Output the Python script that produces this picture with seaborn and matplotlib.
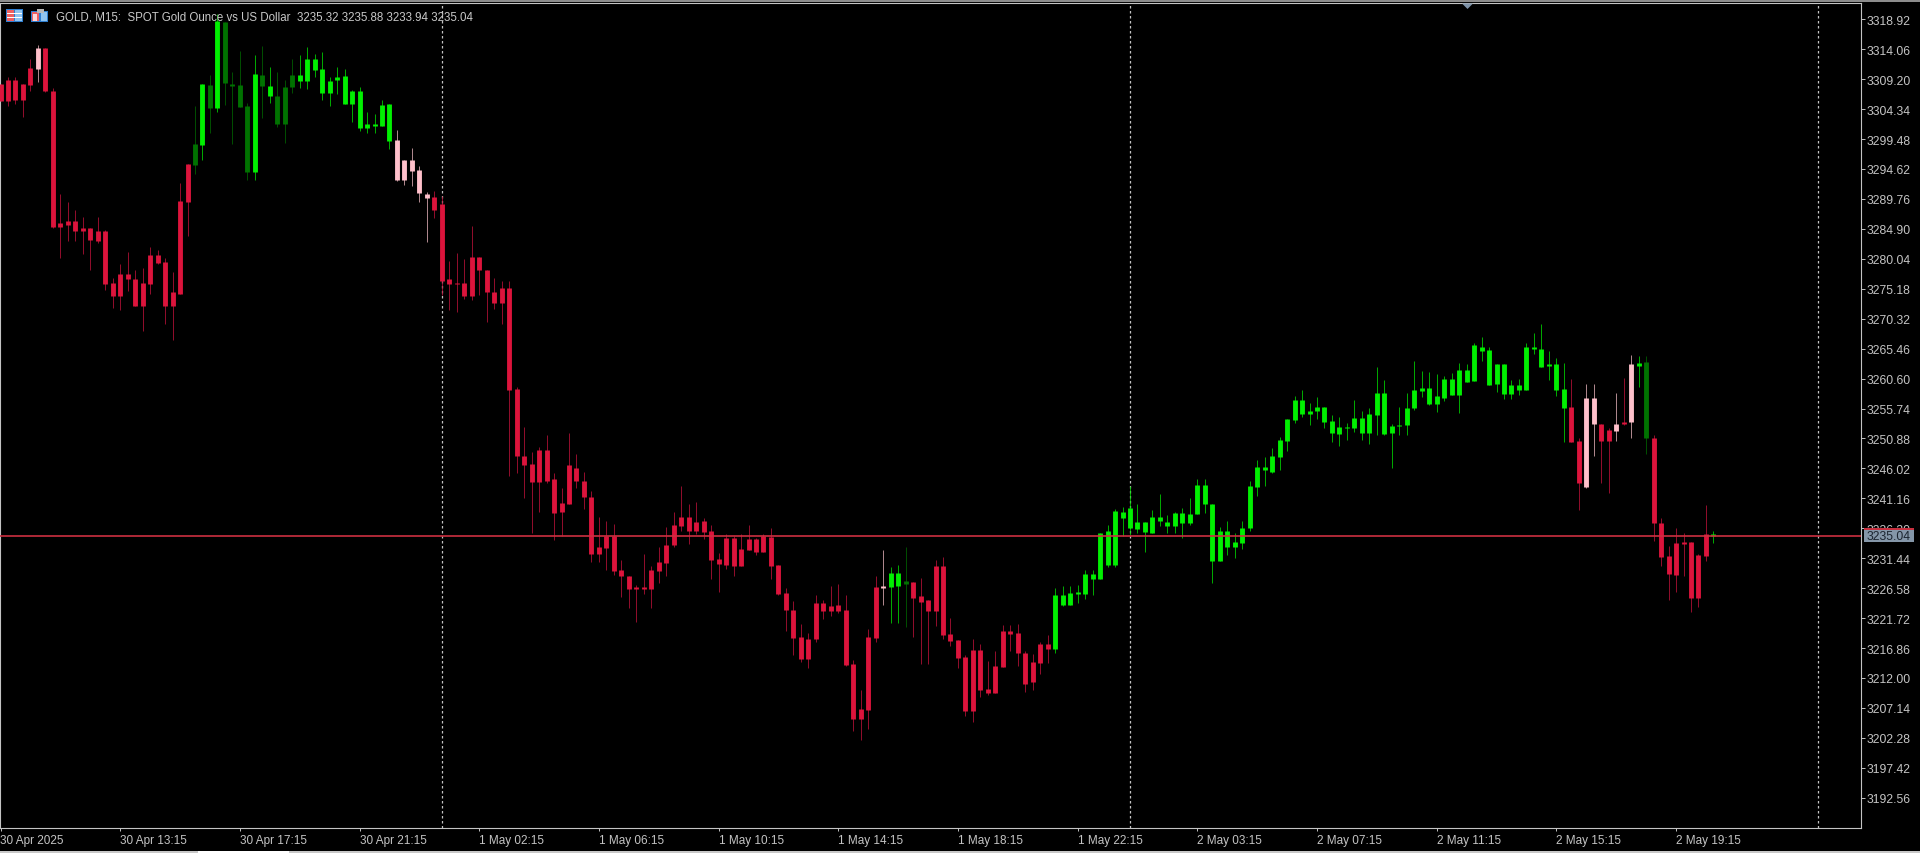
import matplotlib
matplotlib.use("Agg")
import matplotlib.pyplot as plt
from matplotlib.patches import Rectangle, Polygon
import numpy as np
import pandas as pd
import seaborn as sns

highs = [
 3308.4,3309.5,3309.6,3308.4,3312.5,3314.8,3314.3,3307.7,3290.6,3289.3,
 3287.9,3286.9,3285.0,3286.8,3284.7,3277.0,3279.2,3281.1,3278.2,3278.5,
 3281.9,3281.5,3280.1,3277.9,3292.3,3295.5,3304.9,3308.4,3309.9,3319.8,
 3318.5,3310.4,3313.7,3305.4,3313.1,3314.6,3311.2,3310.3,3309.0,3312.5,
 3313.1,3314.4,3313.3,3313.6,3309.6,3311.1,3310.9,3307.5,3307.9,3303.8,
 3303.6,3305.8,3305.1,3301.0,3296.1,3298.0,3295.1,3290.9,3291.1,3290.2,
 3279.7,3281.0,3280.0,3285.3,3280.4,3278.3,3276.9,3276.4,3276.5,3259.3,
 3252.7,3248.7,3249.5,3251.4,3245.3,3242.8,3251.8,3248.4,3245.4,3242.3,
 3238.1,3237.5,3237.0,3231.2,3228.5,3227.1,3232.1,3230.1,3233.2,3236.5,
 3239.0,3243.2,3240.2,3240.5,3237.9,3236.9,3232.3,3235.3,3235.1,3235.3,
 3236.9,3234.8,3235.3,3236.3,3230.3,3226.6,3224.5,3220.7,3219.3,3225.4,
 3224.6,3226.9,3227.2,3225.4,3214.9,3210.1,3220.0,3228.6,3232.8,3230.0,
 3230.3,3233.2,3227.5,3228.2,3224.7,3231.1,3231.6,3221.7,3218.1,3215.8,
 3218.3,3217.5,3214.7,3216.4,3220.6,3220.6,3220.8,3216.4,3215.9,3217.9,
 3219.0,3226.6,3226.9,3226.9,3227.1,3229.6,3229.6,3235.6,3236.8,3239.4,
 3239.7,3243.2,3240.2,3237.3,3239.2,3241.8,3238.4,3238.9,3239.6,3241.2,
 3244.3,3244.3,3240.2,3236.5,3237.5,3235.5,3237.5,3243.9,3247.3,3247.8,
 3249.3,3251.1,3254.0,3257.8,3258.7,3256.7,3257.6,3256.0,3254.7,3254.4,
 3253.4,3257.1,3255.4,3255.8,3262.4,3260.3,3253.2,3256.0,3258.3,3263.5,
 3261.8,3261.6,3261.3,3261.0,3261.5,3263.2,3263.0,3266.4,3267.3,3265.7,
 3263.0,3263.0,3260.4,3260.5,3266.4,3268.0,3269.4,3265.0,3263.9,3263.1,
 3260.5,3250.9,3259.7,3259.7,3253.2,3252.5,3258.2,3260.7,3264.5,3264.2,
 3264.2,3251.4,3238.0,3233.4,3236.3,3235.6,3234.0,3232.2,3240.0,3235.88,
]
tops = [
 3308.4,3309.0,3309.0,3308.4,3311.0,3314.3,3314.3,3307.2,3285.8,3286.1,
 3286.1,3285.0,3285.0,3284.6,3284.6,3276.1,3277.6,3277.6,3276.7,3276.1,
 3280.7,3280.7,3279.6,3274.7,3289.4,3295.5,3298.7,3308.4,3308.3,3318.7,
 3318.5,3308.4,3308.3,3304.9,3310.0,3309.9,3308.1,3306.5,3308.0,3309.9,
 3309.9,3312.5,3312.5,3310.9,3308.9,3309.6,3309.7,3307.2,3307.2,3302.0,
 3302.0,3305.0,3305.1,3299.3,3296.0,3296.0,3294.4,3290.5,3290.0,3288.9,
 3276.7,3276.1,3276.1,3280.4,3280.4,3278.3,3274.7,3275.3,3275.3,3258.9,
 3248.1,3246.7,3249.0,3249.0,3244.3,3240.4,3246.5,3246.1,3244.0,3241.4,
 3233.3,3235.0,3235.0,3229.6,3228.5,3226.7,3226.7,3229.6,3230.8,3233.6,
 3236.9,3238.2,3238.2,3237.3,3237.5,3235.8,3231.3,3234.8,3234.8,3232.9,
 3234.6,3234.6,3235.1,3234.9,3230.3,3225.8,3223.1,3218.7,3218.4,3224.2,
 3224.2,3223.7,3223.9,3223.1,3214.3,3206.9,3218.7,3226.7,3227.0,3229.0,
 3229.0,3227.8,3227.5,3225.3,3224.7,3230.2,3230.2,3219.1,3218.1,3215.4,
 3216.6,3216.6,3210.2,3213.9,3219.6,3219.6,3219.3,3216.1,3214.6,3217.5,
 3217.5,3225.5,3225.5,3225.8,3225.9,3228.9,3228.8,3235.6,3235.8,3239.1,
 3239.0,3239.6,3237.3,3237.3,3238.1,3238.1,3237.3,3238.7,3238.7,3238.6,
 3243.4,3243.4,3240.2,3235.9,3235.8,3234.0,3236.4,3243.1,3246.3,3246.3,
 3248.0,3250.6,3254.0,3257.1,3257.1,3255.4,3256.0,3256.0,3253.7,3252.7,
 3252.7,3254.2,3254.2,3254.8,3258.3,3258.3,3252.9,3253.1,3255.8,3258.8,
 3259.0,3259.0,3257.7,3260.5,3260.5,3262.0,3262.0,3266.1,3265.8,3265.3,
 3263.0,3263.0,3259.5,3259.5,3265.7,3265.7,3265.4,3262.9,3262.9,3258.9,
 3256.0,3250.4,3257.4,3257.4,3253.2,3252.2,3253.2,3253.5,3262.9,3263.1,
 3263.3,3251.0,3237.2,3231.8,3233.9,3234.0,3234.0,3232.0,3235.3,3235.32,
]
bottoms = [
 3305.6,3305.6,3305.8,3305.8,3308.3,3310.9,3307.2,3285.2,3285.2,3285.6,
 3284.5,3284.5,3283.1,3283.0,3276.0,3274.0,3274.0,3276.7,3272.4,3272.4,
 3276.0,3279.4,3272.3,3272.3,3274.4,3289.3,3295.3,3298.5,3304.5,3304.5,
 3308.6,3308.1,3304.7,3294.1,3294.1,3308.1,3306.5,3302.0,3301.9,3307.9,
 3308.9,3308.9,3310.7,3306.9,3306.9,3309.0,3305.2,3305.2,3301.2,3301.2,
 3301.6,3301.6,3299.1,3292.8,3292.9,3294.3,3290.7,3289.9,3288.0,3276.5,
 3276.0,3275.9,3274.0,3274.0,3278.2,3274.6,3272.8,3272.8,3258.8,3248.0,
 3246.6,3243.8,3243.8,3244.0,3238.7,3238.9,3240.3,3243.9,3241.3,3232.2,
 3232.2,3233.1,3229.4,3228.5,3226.5,3226.5,3226.5,3226.5,3229.4,3230.7,
 3233.6,3236.7,3235.9,3235.9,3235.7,3231.2,3230.5,3230.4,3230.1,3230.1,
 3232.8,3232.4,3232.4,3230.2,3225.6,3223.0,3218.5,3215.1,3215.1,3218.4,
 3222.8,3222.8,3222.9,3214.1,3205.3,3205.3,3206.8,3218.5,3226.6,3226.8,
 3227.0,3227.2,3224.9,3224.3,3222.8,3222.8,3219.0,3218.0,3215.2,3206.7,
 3206.7,3210.1,3209.6,3209.6,3213.7,3219.1,3216.0,3211.1,3211.3,3214.4,
 3216.7,3216.7,3223.8,3223.9,3225.7,3225.6,3228.1,3228.1,3230.4,3230.4,
 3238.0,3236.3,3236.2,3235.7,3235.5,3237.4,3236.6,3236.6,3237.2,3237.2,
 3238.6,3240.2,3231.0,3231.0,3233.3,3233.3,3233.9,3236.4,3243.0,3245.7,
 3245.5,3247.9,3250.4,3253.9,3254.9,3254.9,3255.3,3253.6,3251.7,3251.6,
 3252.5,3252.6,3251.8,3251.8,3254.7,3251.6,3251.8,3252.9,3253.0,3255.8,
 3258.6,3256.4,3256.5,3257.5,3258.0,3258.0,3260.1,3260.2,3265.1,3259.6,
 3259.7,3258.1,3258.1,3258.8,3258.8,3265.4,3262.5,3262.6,3258.8,3255.9,
 3250.3,3243.6,3243.0,3253.2,3250.4,3250.4,3252.1,3253.2,3253.5,3262.7,
 3250.9,3237.1,3231.6,3228.8,3228.7,3233.7,3225.0,3225.0,3231.8,3235.04,
]
lows = [
 3305.6,3304.9,3305.2,3303.1,3307.3,3308.8,3307.1,3285.1,3280.2,3283.0,
 3282.9,3280.8,3278.2,3282.6,3275.0,3272.1,3271.8,3274.8,3272.4,3268.3,
 3274.3,3279.2,3269.4,3266.9,3274.4,3283.7,3293.8,3296.1,3300.4,3303.8,
 3305.0,3298.6,3304.7,3292.8,3292.9,3302.9,3305.3,3301.4,3298.8,3307.0,
 3307.8,3307.6,3309.6,3305.8,3304.9,3306.8,3305.1,3302.3,3300.8,3300.5,
 3300.4,3301.6,3297.9,3292.7,3292.1,3291.8,3289.3,3282.7,3286.7,3274.1,
 3271.8,3271.4,3273.5,3273.4,3274.2,3269.8,3271.9,3269.4,3244.8,3245.3,
 3241.2,3235.6,3239.0,3243.6,3234.4,3235.1,3240.3,3242.9,3239.5,3230.9,
 3230.9,3229.5,3228.7,3225.1,3223.3,3221.1,3225.6,3223.4,3227.4,3228.6,
 3233.2,3235.9,3233.7,3235.3,3234.6,3228.0,3225.9,3229.7,3228.5,3230.1,
 3232.7,3231.9,3232.4,3228.1,3225.4,3219.6,3215.8,3214.6,3213.6,3217.8,
 3221.6,3222.0,3222.6,3214.0,3203.4,3201.9,3203.7,3217.8,3223.9,3221.0,
 3221.0,3220.3,3218.7,3214.3,3214.2,3220.5,3218.4,3217.2,3213.6,3205.8,
 3204.9,3208.9,3209.3,3209.6,3213.7,3216.3,3214.0,3209.8,3210.0,3212.6,
 3214.4,3216.1,3223.7,3223.9,3224.2,3224.8,3225.4,3228.1,3230.0,3230.0,
 3235.0,3235.2,3235.5,3232.4,3235.5,3236.7,3235.6,3235.5,3234.7,3236.9,
 3238.6,3238.8,3227.4,3231.0,3231.9,3231.4,3232.9,3235.8,3241.6,3243.2,
 3245.2,3245.7,3248.9,3253.4,3254.4,3253.0,3254.0,3252.5,3250.3,3249.6,
 3250.6,3251.9,3250.6,3249.9,3251.5,3251.5,3246.1,3251.4,3251.4,3255.5,
 3257.6,3256.3,3255.2,3257.0,3258.0,3255.0,3260.1,3260.2,3263.5,3259.6,
 3258.4,3257.3,3257.3,3257.9,3258.8,3264.6,3262.5,3260.3,3257.8,3250.3,
 3250.3,3239.3,3242.8,3248.1,3243.6,3242.1,3250.4,3253.1,3250.9,3259.3,
 3248.3,3234.3,3230.2,3224.7,3226.0,3228.5,3222.7,3223.5,3231.0,3233.94,
]
kinds = list(
    "rrrrr" "p" + "r"*20 + "dgdg" "dddd" "gdg" "ddd" + "g"*13 + "p"*5 + "r"*60
    + "p" "gg" "d" + "r"*19 + "g"*69 + "rr" "pp" "rr" "p" "r" "p" "g" "d" + "r"*8 + "g"
)
x_labels = ["30 Apr 2025", "30 Apr 13:15", "30 Apr 17:15", "30 Apr 21:15", "1 May 02:15",
            "1 May 06:15", "1 May 10:15", "1 May 14:15", "1 May 18:15", "1 May 22:15",
            "2 May 03:15", "2 May 07:15", "2 May 11:15", "2 May 15:15", "2 May 19:15"]
y_labels = ["3318.92", "3314.06", "3309.20", "3304.34", "3299.48", "3294.62", "3289.76",
            "3284.90", "3280.04", "3275.18", "3270.32", "3265.46", "3260.60", "3255.74",
            "3250.88", "3246.02", "3241.16", "3236.30", "3231.44", "3226.58", "3221.72",
            "3216.86", "3212.00", "3207.14", "3202.28", "3197.42", "3192.56"]
day_breaks = [59, 151, 243]
last_price = 3235.04
title = "GOLD, M15:  SPOT Gold Ounce vs US Dollar  3235.32 3235.88 3233.94 3235.04"

GREY = "#c4c4c4"
body_pal = {"r": "#dc143c", "g": "#00f000", "d": "#007200", "p": "#ffc0cb"}
wick_pal = {"r": "#c0123a", "g": "#00e000", "d": "#006800", "p": "#e8b4bc"}

sns.set_theme(style="dark", rc={
    "figure.facecolor": "black", "axes.facecolor": "black", "savefig.facecolor": "black",
    "axes.edgecolor": GREY, "text.color": GREY, "xtick.color": GREY, "ytick.color": GREY,
    "axes.linewidth": 0.8, "xtick.bottom": True, "ytick.right": True,
})
plt.rcParams["font.family"] = ["Liberation Sans", "DejaVu Sans"]

W, H = 1920, 854
fig = plt.figure(figsize=(W / 100, H / 100), dpi=100)
ax_top, ax_bot, ax_right = 4, 829, 1861
ax = fig.add_axes([0, (H - ax_bot) / H, ax_right / W, (ax_bot - ax_top) / H])

n = len(highs)
idx = np.arange(n)
wicks = pd.DataFrame({"idx": np.r_[idx, idx], "price": highs + lows, "kind": kinds + kinds})
bodies = pd.DataFrame({"idx": np.r_[idx, idx], "price": tops + bottoms, "kind": kinds + kinds})

for b in day_breaks:
    ax.axvline(b, color=GREY, lw=0.9, ls=(0, (2, 2)), zorder=1)

sns.lineplot(data=wicks, x="idx", y="price", hue="kind", units="idx", estimator=None,
             palette=wick_pal, linewidth=0.72, alpha=0.75, legend=False, ax=ax,
             solid_capstyle="butt", zorder=2)
sns.lineplot(data=bodies, x="idx", y="price", hue="kind", units="idx", estimator=None,
             palette=body_pal, linewidth=3.5, legend=False, ax=ax,
             solid_capstyle="butt", zorder=3)
ax.axhline(last_price, color="#cc3040", lw=1.2, zorder=4)

ax.set_xlim(-0.5 / 7.48, (ax_right - 0.5) / 7.48)
ax.set_ylim(3322.215 - 0.16233 * ax_bot, 3322.215 - 0.16233 * ax_top)
ax.set_xlabel("")
ax.set_ylabel("")
ax.grid(False)

ax.set_xticks(np.arange(len(x_labels)) * 16)
ax.set_xticklabels(x_labels, ha="left", fontsize=8.5)
ax.set_yticks([float(v) for v in y_labels])
ax.set_yticklabels(y_labels, fontsize=8.7)
ax.yaxis.tick_right()
ax.tick_params(axis="x", length=2.5, width=0.7, pad=2.0, color=GREY, labelcolor=GREY)
ax.tick_params(axis="y", length=3.2, width=0.7, pad=1, color=GREY, labelcolor=GREY)
for s in ax.spines.values():
    s.set_visible(True)
    s.set_color(GREY)
    s.set_linewidth(0.8)


def px_rect(x0, y0, x1, y1, color, z=5):
    fig.add_artist(Rectangle((x0 / W, 1 - y1 / H), (x1 - x0) / W, (y1 - y0) / H,
                             transform=fig.transFigure, facecolor=color, edgecolor="none", zorder=z))


# window chrome
px_rect(0, 0, W, 2.5, "#8c8c8c")
px_rect(0, 851.5, W, H, "#c8c8c8")
px_rect(198, 851.5, 289, H, "#ffffff", 6)

# chart-shift marker
fig.add_artist(Polygon([(1462 / W, 1 - 4.5 / H), (1473 / W, 1 - 4.5 / H), (1467.5 / W, 1 - 10 / H)],
                       transform=fig.transFigure, facecolor="#7f93a8", edgecolor="none", zorder=5))

# toolbar icons
px_rect(6, 10, 23, 23, "#2f7fd0")
px_rect(7, 11, 14, 22, "#f06060")
px_rect(15, 11, 22, 22, "#90c4f0")
for yy in (14, 18):
    px_rect(7, yy, 22, yy + 1, "#ffffff", 6)
px_rect(31, 12, 48, 23, "#2f7fd0")
px_rect(32, 13, 39, 22, "#f06060")
px_rect(33, 15, 37, 22, "#ffd8d8", 6)
px_rect(41, 13, 47, 22, "#90c4f0")
px_rect(37, 10, 44, 14, "#b8b8b8", 6)

fig.text(55.5 / W, 1 - 17 / H, title, color="#c8c8c8", fontsize=8.3, ha="left", va="center", zorder=7)

# last-price tag
px_rect(1864, 529.5, 1914, 543, "#8496a8", 6)
px_rect(1864, 529, 1914, 530.5, "#c8303f", 7)
fig.text(1867 / W, 1 - 537 / H, f"{last_price:.2f}", color="#1c2530", fontsize=8.7,
         ha="left", va="center", zorder=8)

fig.savefig("out.png", dpi=100)
